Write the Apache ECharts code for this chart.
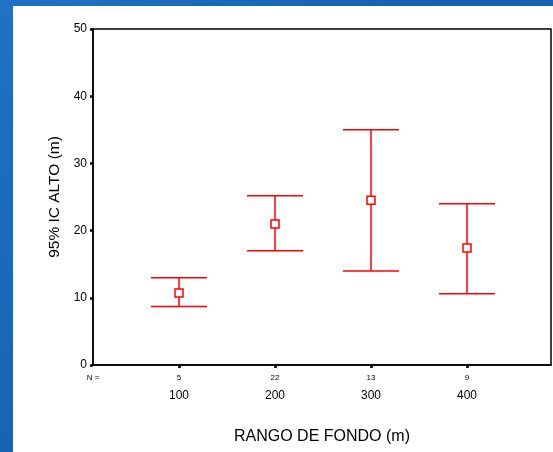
<!DOCTYPE html>
<html>
<head>
<meta charset="utf-8">
<script src="https://cdn.jsdelivr.net/npm/echarts@6/dist/echarts.min.js"></script>
<style>
html,body{margin:0;padding:0;background:#1a65b5;}
#c{width:553px;height:452px;}
</style>
</head>
<body>
<div id="c"></div>
<script>
var categories = [100, 200, 300, 400];
var counts = [5, 22, 13, 9];
var means = [10.7, 21.0, 24.5, 17.4];
var lowers = [8.7, 17.0, 14.0, 10.6];
var uppers = [13.0, 25.2, 35.0, 24.0];
var yTicks = [0, 10, 20, 30, 40, 50];

var X_MIN = 10.4, X_MAX = 487.5;

var chart = echarts.init(document.getElementById('c'), null, {renderer: 'canvas'});
var data = categories.map(function (c, i) { return [c, lowers[i], uppers[i], means[i]]; });
var nMap = {};
categories.forEach(function (c, i) { nMap[c] = counts[i]; });

var option = {
  backgroundColor: {
    type: 'linear', x: 0, y: 0, x2: 1, y2: 1,
    colorStops: [{offset: 0, color: '#1f72c4'}, {offset: 0.5, color: '#1660b0'}, {offset: 1, color: '#1a68b8'}]
  },
  animation: false,
  graphic: [{
    type: 'rect', z: -10, silent: true,
    shape: {x: 13, y: 6, width: 540, height: 446},
    style: {fill: '#ffffff'}
  }],
  grid: {
    left: 93, top: 29, right: 2, bottom: 87,
    show: true, borderColor: '#000', borderWidth: 1.5, backgroundColor: 'transparent'
  },
  xAxis: {
    type: 'value', min: X_MIN, max: X_MAX,
    name: 'RANGO DE FONDO (m)', nameLocation: 'middle', nameGap: 64,
    nameTextStyle: {fontFamily: 'Liberation Sans', fontSize: 16, color: '#000'},
    axisLine: {show: true, lineStyle: {color: '#000', width: 1.5}},
    splitLine: {show: false},
    axisTick: {show: true, length: 3, lineStyle: {color: '#000', width: 2.5}, customValues: categories},
    axisLabel: {
      show: true, margin: 7, customValues: [X_MIN].concat(categories),
      showMinLabel: true, showMaxLabel: true,
      formatter: function (v) {
        if (nMap[v] === undefined) return '{n|N =}\n{c| }';
        return '{n|' + nMap[v] + '}\n{c|' + v + '}';
      },
      rich: {
        n: {fontFamily: 'Liberation Sans', fontSize: 8, lineHeight: 12, color: '#000'},
        c: {fontFamily: 'Liberation Sans', fontSize: 12, lineHeight: 24, color: '#000'}
      }
    }
  },
  yAxis: {
    type: 'value', min: 0, max: 50, interval: 10,
    name: '95% IC ALTO (m)', nameLocation: 'middle', nameGap: 29,
    nameTextStyle: {fontFamily: 'Liberation Sans', fontSize: 15.5, color: '#000'},
    axisLine: {show: true, lineStyle: {color: '#000', width: 1.5}},
    splitLine: {show: false},
    axisTick: {show: true, length: 3, lineStyle: {color: '#000', width: 2.5}},
    axisLabel: {fontFamily: 'Liberation Sans', fontSize: 12, color: '#000', margin: 6}
  },
  series: [{
    type: 'custom',
    data: data,
    renderItem: function (params, api) {
      var x = api.value(0);
      var lo = api.coord([x, api.value(1)]);
      var hi = api.coord([x, api.value(2)]);
      var mid = api.coord([x, api.value(3)]);
      var hw = 28, s = 4;
      var st = {stroke: '#ff0000', lineWidth: 1.5, fill: null};
      return {
        type: 'group',
        children: [
          {type: 'line', shape: {x1: hi[0], y1: hi[1], x2: lo[0], y2: lo[1]}, style: st},
          {type: 'line', shape: {x1: hi[0] - hw, y1: hi[1], x2: hi[0] + hw, y2: hi[1]}, style: st},
          {type: 'line', shape: {x1: lo[0] - hw, y1: lo[1], x2: lo[0] + hw, y2: lo[1]}, style: st},
          {type: 'rect', shape: {x: mid[0] - s, y: mid[1] - s, width: 2 * s, height: 2 * s},
           style: {stroke: '#ff0000', lineWidth: 1.5, fill: '#ffffff'}}
        ]
      };
    }
  }]
};
chart.setOption(option);
</script>
</body>
</html>
